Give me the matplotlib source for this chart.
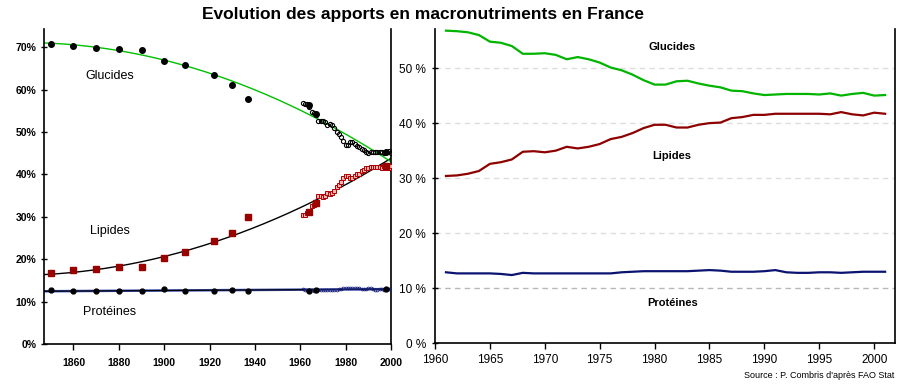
import numpy as np
import matplotlib
matplotlib.use("Agg")
import matplotlib.pyplot as plt
from matplotlib.ticker import FixedLocator

plt.rcParams["font.family"] = ["Liberation Sans", "DejaVu Sans"]

# historical series (left panel, big markers)
hist_years = [1850, 1860, 1870, 1880, 1890, 1900, 1909, 1922, 1930, 1937, 1964, 1967, 1998]
hist_glucides = [70.7, 70.2, 69.9, 69.5, 69.3, 66.8, 65.8, 63.5, 61.2, 57.8, 56.4, 54.2, 45.2]
hist_lipides = [16.8, 17.4, 17.6, 18.1, 18.2, 20.3, 21.7, 24.2, 26.2, 29.9, 31.1, 33.2, 42.0]
hist_proteines = [12.7, 12.6, 12.6, 12.4, 12.5, 13.0, 12.6, 12.5, 12.8, 12.4, 12.6, 12.7, 12.9]

# FAO annual series 1961-2001
fao_years = list(range(1961, 2002))
fao_glucides = [56.8, 56.7, 56.5, 56.0, 54.8, 54.6, 54.0, 52.6, 52.6, 52.7,
                52.4, 51.6, 52.0, 51.6, 51.0, 50.1, 49.6, 48.8, 47.8, 47.0,
                47.0, 47.6, 47.7, 47.2, 46.8, 46.5, 45.9, 45.8, 45.4, 45.1,
                45.2, 45.3, 45.3, 45.3, 45.2, 45.4, 45.0, 45.3, 45.5, 45.0, 45.1]
fao_lipides = [30.4, 30.5, 30.8, 31.3, 32.6, 32.9, 33.4, 34.8, 34.9, 34.7,
               35.0, 35.7, 35.4, 35.7, 36.2, 37.1, 37.5, 38.2, 39.1, 39.7,
               39.7, 39.2, 39.2, 39.7, 40.0, 40.1, 40.9, 41.1, 41.5, 41.5,
               41.7, 41.7, 41.7, 41.7, 41.7, 41.6, 42.0, 41.6, 41.4, 41.9, 41.7]
fao_proteines = [12.9, 12.7, 12.7, 12.7, 12.7, 12.6, 12.4, 12.8, 12.7, 12.7,
                 12.7, 12.7, 12.7, 12.7, 12.7, 12.7, 12.9, 13.0, 13.1, 13.1,
                 13.1, 13.1, 13.1, 13.2, 13.3, 13.2, 13.0, 13.0, 13.0, 13.1,
                 13.3, 12.9, 12.8, 12.8, 12.9, 12.9, 12.8, 12.9, 13.0, 13.0, 13.0]

W, H = 905, 388
fig = plt.figure(figsize=(W / 100, H / 100), dpi=100)

def box(x0, x1, y_top, y_bot):
    return [x0 / W, 1 - y_bot / H, (x1 - x0) / W, (y_bot - y_top) / H]

# ---------------- left panel
ax1 = fig.add_axes(box(44, 391, 29, 344))
hy = np.array(hist_years, dtype=float)
fy = np.array(fao_years[:-1], dtype=float)
xs = np.linspace(1847, 2000, 200)
all_x = np.concatenate([hy, fy])

# trend curves: least squares over every point of the panel
trends = [(hist_proteines, fao_proteines, 1, "#3446a8", 1.8),
          (hist_proteines, fao_proteines, 1, "black", 0.8),
          (hist_lipides, fao_lipides, 2, "black", 1.0),
          (hist_glucides, fao_glucides, 2, "#00c000", 1.0)]
for hv, fv, deg, col, lw in trends:
    p = np.polyfit(all_x, np.concatenate([hv, fv[:-1]]), deg)
    ax1.plot(xs, np.polyval(p, xs), color=col, lw=lw, zorder=2)

ax1.plot(fy, fao_glucides[:-1], "o", ms=3, mfc="none", mec="black", mew=0.8, zorder=3)
ax1.plot(fy, fao_lipides[:-1], "s", ms=3.2, mfc="#f2b4b4", mec="#b00000", mew=0.7, zorder=3)
ax1.plot(fy, fao_proteines[:-1], "o", ms=2, mfc="none", mec="#1a237e", mew=0.6, zorder=3)

ax1.plot(hy, hist_glucides, "o", ms=4, color="black", zorder=4)
ax1.plot(hy, hist_lipides, "s", ms=4.3, color="#990000", zorder=4)
ax1.plot(hy, hist_proteines, "o", ms=3.5, color="black", zorder=4)

ax1.set_xlim(1847, 2000)
ax1.set_ylim(0, 74.3)
ax1.xaxis.set_major_locator(FixedLocator(range(1860, 2001, 20)))
ax1.yaxis.set_major_locator(FixedLocator(range(0, 71, 10)))
ax1.set_yticklabels(["%d%%" % v for v in range(0, 71, 10)])
ax1.tick_params(axis="x", direction="out", length=4, width=1, labelsize=7.5, pad=6)
ax1.tick_params(axis="y", direction="inout", length=5, width=1, labelsize=7.5, pad=3)
for lab in ax1.get_xticklabels() + ax1.get_yticklabels():
    lab.set_fontweight("bold")
ax1.spines["top"].set_visible(False)
for s in ["left", "bottom", "right"]:
    ax1.spines[s].set_linewidth(1.2)

ax1.text(1876, 63.3, "Glucides", fontsize=9, ha="center", va="center")
ax1.text(1876, 26.7, "Lipides", fontsize=9, ha="center", va="center")
ax1.text(1876, 7.6, "Protéines", fontsize=9, ha="center", va="center")

# ---------------- right panel
ax2 = fig.add_axes(box(435, 895, 29, 343.3))
for v, c in [(10, "#b8b8b8"), (20, "#dddddd"), (30, "#dddddd"), (40, "#dddddd"), (50, "#dddddd")]:
    ax2.axhline(v, color=c, lw=1, ls=(0, (4, 3)), zorder=1)
ax2.plot(fao_years, fao_glucides, color="#00b400", lw=1.6, zorder=3)
ax2.plot(fao_years, fao_lipides, color="#8e0000", lw=1.6, zorder=3)
ax2.plot(fao_years, fao_proteines, color="#0a1470", lw=1.6, zorder=3)

ax2.set_xlim(1960, 2001.9)
ax2.set_ylim(0, 57.1)
ax2.xaxis.set_major_locator(FixedLocator(range(1960, 2001, 5)))
ax2.yaxis.set_major_locator(FixedLocator(range(0, 51, 10)))
ax2.set_yticklabels(["%d %%" % v for v in range(0, 51, 10)])
ax2.tick_params(axis="x", direction="out", length=4, width=1, labelsize=8.5, pad=4)
ax2.tick_params(axis="y", direction="inout", length=5, width=1, labelsize=8.5, pad=4)
ax2.spines["top"].set_visible(False)
for s in ["left", "bottom", "right"]:
    ax2.spines[s].set_linewidth(1.2)

ax2.text(1981.6, 53.8, "Glucides", fontsize=8, fontweight="bold", ha="center", va="center")
ax2.text(1981.6, 34.1, "Lipides", fontsize=8, fontweight="bold", ha="center", va="center")
ax2.text(1981.6, 7.3, "Protéines", fontsize=8, fontweight="bold", ha="center", va="center")

fig.text(423 / W, 1 - 14 / H, "Evolution des apports en macronutriments en France",
         fontsize=12.5, fontweight="bold", ha="center", va="center")
fig.text(894 / W, 1 - 376 / H, "Source : P. Combris d'après FAO Stat",
         fontsize=6.5, ha="right", va="center")

fig.savefig("out.png", dpi=100)
